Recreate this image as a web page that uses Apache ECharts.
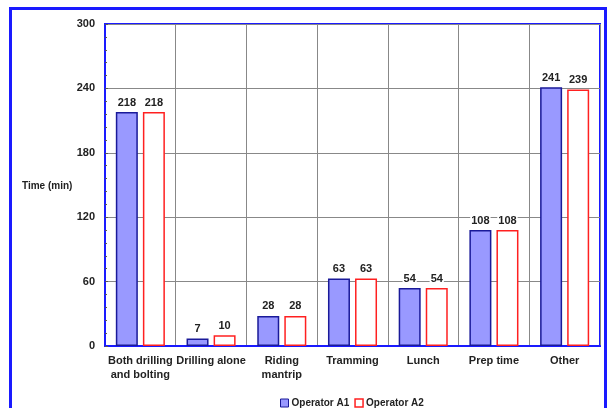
<!DOCTYPE html>
<html><head><meta charset="utf-8">
<script src="https://cdn.jsdelivr.net/npm/echarts@6/dist/echarts.min.js"></script>
<style>
html,body{margin:0;padding:0;background:#fff;overflow:hidden}
#frame{position:absolute;left:9px;top:7px;width:592px;height:420px;border:3px solid #1a1aff}
#c{position:absolute;left:0;top:0;width:609px;height:408px}
</style></head>
<body>
<div id="frame"></div>
<div id="c"></div>
<script>
const categories = ['Both drilling\nand bolting', 'Drilling alone', 'Riding\nmantrip', 'Tramming', 'Lunch', 'Prep time', 'Other'];
const operatorA1 = [218, 7, 28, 63, 54, 108, 241];
const operatorA2 = [218, 10, 28, 63, 54, 108, 239];
const yTicks = { min: 0, max: 300, interval: 60 };

const font = '"Liberation Sans", Arial, sans-serif';
const chart = echarts.init(document.getElementById('c'));
const lbl = {
  show: true, position: 'top', distance: 4,
  color: '#222', fontFamily: font, fontWeight: 'bold', fontSize: 11,
  backgroundColor: '#fff', padding: [0, 1]
};
chart.setOption({
  animation: false,
  backgroundColor: 'transparent',
  grid: { left: 105, top: 24, right: 9, bottom: 62, show: true, borderColor: '#1a1aff', borderWidth: 2, backgroundColor: 'transparent' },
  legend: {
    left: 275, top: 393, itemWidth: 8, itemHeight: 8, itemGap: 5,
    textStyle: { fontFamily: font, fontWeight: 'bold', fontSize: 10, color: '#222', padding: [0, 0, 0, -2] },
    data: [
      { name: 'Operator A1', icon: 'rect', itemStyle: { color: '#9999ff', borderColor: '#1a1a99', borderWidth: 1 } },
      { name: 'Operator A2', icon: 'rect', itemStyle: { color: '#fff', borderColor: '#ff2020', borderWidth: 1.5 } }
    ]
  },
  xAxis: {
    type: 'category', data: categories,
    axisLine: { lineStyle: { color: '#1a1aff', width: 2 } },
    axisTick: { show: false },
    splitLine: { show: true, lineStyle: { color: '#888', width: 1 } },
    axisLabel: { interval: 0, margin: 8, color: '#222', fontFamily: font, fontWeight: 'bold', fontSize: 11, lineHeight: 14 }
  },
  yAxis: {
    type: 'value', min: yTicks.min, max: yTicks.max, interval: yTicks.interval,
    axisLine: { show: true, lineStyle: { color: '#1a1aff', width: 2 } },
    axisTick: { show: true, inside: true, length: 3, lineStyle: { color: '#555' } },
    minorTick: { show: true, splitNumber: 5, length: 2, lineStyle: { color: '#555' } },
    splitLine: { show: true, lineStyle: { color: '#888', width: 1 } },
    axisLabel: { margin: 10, color: '#222', fontFamily: font, fontWeight: 'bold', fontSize: 11 }
  },
  graphic: [{ type: 'text', left: 22, top: 181, style: { text: 'Time (min)', fill: '#222', font: 'bold 10px ' + font } }],
  series: [
    { name: 'Operator A1', type: 'bar', data: operatorA1, barWidth: 22, barGap: '23%',
      itemStyle: { color: '#9999ff', borderColor: '#1a1a99', borderWidth: 1.5 }, label: lbl },
    { name: 'Operator A2', type: 'bar', data: operatorA2, barWidth: 22,
      itemStyle: { color: '#fff', borderColor: '#ff2020', borderWidth: 1.5 }, label: lbl }
  ]
});
</script>
</body></html>
